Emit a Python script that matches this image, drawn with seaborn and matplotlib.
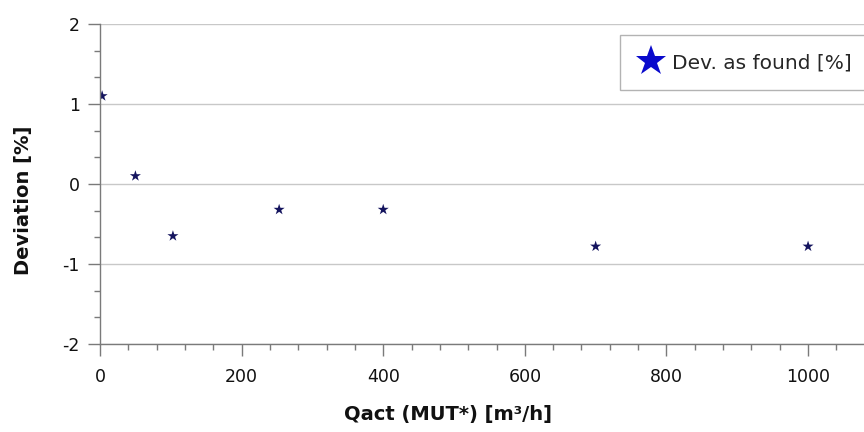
import matplotlib
matplotlib.use("Agg")
import matplotlib.pyplot as plt
import seaborn as sns
import pandas as pd
from matplotlib.ticker import MultipleLocator

# values
flow = [3, 50, 103, 253, 400, 700, 1000]
deviation = [1.1, 0.1, -0.65, -0.32, -0.32, -0.78, -0.78]
series_name = "Dev. as found [%]"

df = pd.DataFrame({"flow": flow, "deviation": deviation, "series": series_name})

sns.set_style("white")
plt.rcParams["font.family"] = ["DejaVu Sans"]
plt.rcParams["axes.unicode_minus"] = False

fig = plt.figure(figsize=(8.64, 4.32), dpi=100)
ax = fig.add_axes([100 / 864, 1 - 344 / 432, 764 / 864, 320 / 432])

sns.scatterplot(data=df, x="flow", y="deviation", hue="series",
                palette=["#14145e"], marker="*", s=70, linewidth=0, ax=ax)

ax.set_xlim(0, 1079)
ax.set_ylim(-2, 2)
ax.xaxis.set_major_locator(MultipleLocator(200))
ax.xaxis.set_minor_locator(MultipleLocator(40))
ax.yaxis.set_major_locator(MultipleLocator(1))
ax.yaxis.set_minor_locator(MultipleLocator(1 / 3))

ax.grid(axis="y", which="major", color="#c8c8c8", linewidth=1)
ax.set_axisbelow(True)
for side in ["top", "right"]:
    ax.spines[side].set_visible(False)
for side in ["left", "bottom"]:
    ax.spines[side].set_color("#7a7a7a")
    ax.spines[side].set_linewidth(1)

ax.tick_params(which="both", bottom=True, left=True, direction="out", color="#7a7a7a", width=1)
ax.tick_params(which="major", length=8.5, labelsize=12.5, labelcolor="#111111")
ax.tick_params(which="minor", length=4.5)
ax.tick_params(axis="x", which="major", pad=9)
ax.tick_params(axis="y", which="major", pad=6)

ax.set_xlabel("Qact (MUT*) [m³/h]", fontsize=14, fontweight="bold", color="#111111")
ax.set_ylabel("Deviation [%]", fontsize=14, fontweight="bold", color="#111111")
ax.xaxis.set_label_coords(0.456, -0.19)
ax.yaxis.set_label_coords(-0.088, 0.45)

leg = ax.legend(loc="upper left", bbox_to_anchor=(0.68, 0.966), fontsize=14.5,
                markerscale=2.8, frameon=True, fancybox=False, handletextpad=0.4,
                borderpad=0.9, handlelength=1.3, borderaxespad=0)
leg.get_frame().set_edgecolor("#a0a0a0")
leg.get_frame().set_linewidth(1)
for h in leg.legend_handles:
    h.set_markerfacecolor("#0a0acc")
    h.set_markeredgecolor("#0a0acc")

fig.savefig("out.png", dpi=100)
